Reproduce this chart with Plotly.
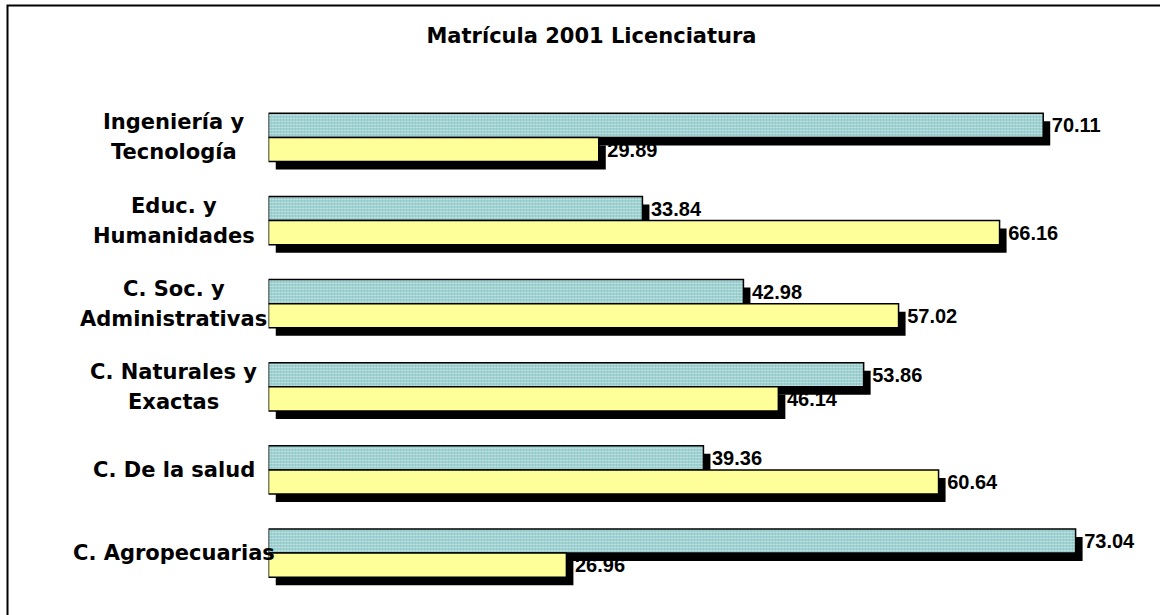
import plotly.graph_objects as go

# Enrollment 2001, undergraduate level: share (%) per area, two groups
categories = [
    "Ingeniería y Tecnología",
    "Educ. y Humanidades",
    "C. Soc. y Administrativas",
    "C. Naturales y Exactas",
    "C. De la salud",
    "C. Agropecuarias",
]
category_lines = [
    ["Ingeniería y", "Tecnología"],
    ["Educ. y", "Humanidades"],
    ["C. Soc. y", "Administrativas"],
    ["C. Naturales y", "Exactas"],
    ["C. De la salud"],
    ["C. Agropecuarias"],
]
serie_a = [70.11, 33.84, 42.98, 53.86, 39.36, 73.04]
serie_b = [29.89, 66.16, 57.02, 46.14, 60.64, 26.96]
title_text = "Matrícula 2001 Licenciatura"

W, H = 1160, 615
# plot box in pixels
x_left_px, x_right_px = 268.5, 1152.5
y_top_px, y_bot_px = 95.9, 594.6
x_range = [0, 80]
# drop-shadow offset in pixels
dx, dy = 7, 8

main_xdom = [x_left_px / W, x_right_px / W]
main_ydom = [(H - y_bot_px) / H, (H - y_top_px) / H]
shad_xdom = [(x_left_px + dx) / W, (x_right_px + dx) / W]
shad_ydom = [(H - y_bot_px - dy) / H, (H - y_top_px - dy) / H]

teal = "#8EC6C6"
yellow = "#FFFF99"

fig = go.Figure()

# shadows (drawn on the lower subplot)
for vals in (serie_a, serie_b):
    fig.add_trace(go.Bar(
        x=vals, y=categories, orientation="h",
        marker=dict(color="black", line=dict(width=0)),
        xaxis="x", yaxis="y", showlegend=False, hoverinfo="skip",
    ))

label_font = dict(family="Arial, Liberation Sans, sans-serif", size=20,
                  color="black", weight="bold")

fig.add_trace(go.Bar(
    name="Serie A", x=serie_a, y=categories, orientation="h",
    marker=dict(
        color=teal,
        line=dict(color="black", width=1.5),
        pattern=dict(shape=".", bgcolor=teal, fgcolor="#D4EDED",
                     size=3, solidity=0.35, fillmode="replace"),
    ),
    text=serie_a, texttemplate="\u00a0%{x:.2f}", textposition="outside",
    textfont=label_font, constraintext="none", cliponaxis=False,
    xaxis="x2", yaxis="y2", showlegend=False,
))
fig.add_trace(go.Bar(
    name="Serie B", x=serie_b, y=categories, orientation="h",
    marker=dict(color=yellow, line=dict(color="black", width=1.5)),
    text=serie_b, texttemplate="\u00a0%{x:.2f}", textposition="outside",
    textfont=label_font, constraintext="none", cliponaxis=False,
    xaxis="x2", yaxis="y2", showlegend=False,
))

axis_common = dict(visible=False, showgrid=False, zeroline=False, fixedrange=True)
yaxis_common = dict(visible=False, showgrid=False, zeroline=False,
                    categoryorder="array", categoryarray=categories,
                    range=[len(categories) - 0.5, -0.5])

fig.update_layout(
    width=W, height=H,
    margin=dict(l=0, r=0, t=0, b=0),
    paper_bgcolor="white", plot_bgcolor="rgba(0,0,0,0)",
    barmode="group", bargap=0.42, bargroupgap=0,
    showlegend=False,
    xaxis=dict(domain=shad_xdom, range=x_range, anchor="y", **axis_common),
    yaxis=dict(domain=shad_ydom, anchor="x", **yaxis_common),
    xaxis2=dict(domain=main_xdom, range=x_range, anchor="y2", **axis_common),
    yaxis2=dict(domain=main_ydom, anchor="x2", **yaxis_common),
    title=dict(
        text=title_text, x=591.5 / W, xanchor="center",
        y=1 - 36 / H, yanchor="middle",
        font=dict(family="DejaVu Sans, sans-serif", size=21,
                  color="black", weight="bold"),
    ),
)

# category labels, centred in the left column, one annotation per line
cat_font = dict(family="DejaVu Sans, sans-serif", size=21,
                color="black", weight="bold")
line_step = 30
for cat, lines in zip(categories, category_lines):
    n = len(lines)
    for k, line in enumerate(lines):
        fig.add_annotation(
            x=173.5 / W, xref="paper", y=cat, yref="y2",
            text=line, showarrow=False, xanchor="center", yanchor="middle",
            yshift=((n - 1) / 2 - k) * line_step,
            font=cat_font,
        )

# chart frame
fig.add_shape(type="rect", xref="paper", yref="paper",
              x0=7.5 / W, x1=1.02, y0=-0.02, y1=1 - 5.5 / H,
              line=dict(color="black", width=2), fillcolor="rgba(0,0,0,0)",
              layer="below")

fig.write_html("out.html")
